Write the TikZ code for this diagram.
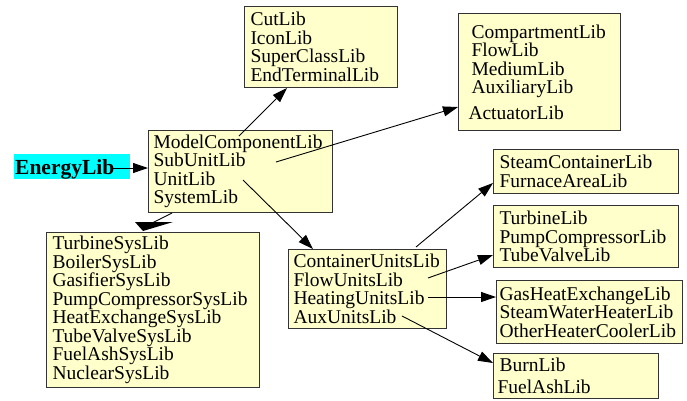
\documentclass[tikz,border=0pt]{standalone}
\usepackage{fontspec}
\setmainfont{Liberation Serif}
\usetikzlibrary{arrows.meta,calc}
\definecolor{boxfill}{HTML}{FFFFCC}
\definecolor{boxline}{HTML}{333333}
\definecolor{rootfill}{HTML}{00FFFF}
\begin{document}
\begin{tikzpicture}[x=1pt,y=-1pt,
  lib/.style={draw=boxline, line width=1pt, fill=boxfill, anchor=north west, align=left,
    inner ysep=0pt, font=\fontsize{19.5}{18.5}\selectfont},
  conn/.style={-{Triangle[length=15pt,width=10pt]}, line width=0.9pt}]
\useasboundingbox (0,0) rectangle (687,400);
% root
\node[fill=rootfill, anchor=north west, inner xsep=1pt, inner ysep=0pt, align=left,
  text width=114pt, text height=20pt, text depth=5pt,
  font=\bfseries\fontsize{21.5}{20}\selectfont] (energy) at (14,154) {EnergyLib};
% boxes
\node[lib, inner xsep=6pt, text width=141pt, minimum height=81pt] (cut) at (244,6)
  {CutLib\\IconLib\\SuperClassLib\\EndTerminalLib};
\node[lib, inner xsep=5pt, text width=174pt, minimum height=82pt] (mc) at (148,130)
  {ModelComponentLib\\SubUnitLib\\UnitLib\\SystemLib};
\node[lib, inner xsep=13pt, text width=136pt, minimum height=117pt] (comp) at (458,13)
  {CompartmentLib\\FlowLib\\MediumLib\\AuxiliaryLib\\[7pt]\hspace*{-3pt}ActuatorLib};
\node[lib, inner xsep=6pt, text width=201pt, minimum height=155pt] (sys) at (46,232)
  {TurbineSysLib\\BoilerSysLib\\GasifierSysLib\\PumpCompressorSysLib\\HeatExchangeSysLib\\TubeValveSysLib\\FuelAshSysLib\\NuclearSysLib};
\node[lib, inner xsep=5pt, text width=148pt, minimum height=79pt] (cu) at (288,249)
  {ContainerUnitsLib\\FlowUnitsLib\\HeatingUnitsLib\\AuxUnitsLib};
\node[lib, inner xsep=6pt, text width=173pt, minimum height=44pt] (steam) at (493,149)
  {SteamContainerLib\\FurnaceAreaLib};
\node[lib, inner xsep=6pt, text width=173pt, minimum height=62pt] (turb) at (493,205)
  {TurbineLib\\PumpCompressorLib\\TubeValveLib};
\node[lib, inner xsep=3pt, text width=180pt, minimum height=63pt] (gas) at (496,280)
  {GasHeatExchangeLib\\SteamWaterHeaterLib\\OtherHeaterCoolerLib};
\node[lib, inner xsep=6pt, text width=153pt, minimum height=45pt] (burn) at (493,353)
  {BurnLib\\[3pt]\hspace*{-2pt}FuelAshLib};
% connectors
\draw[conn] ($(energy.north west)+(99,14)$) -- ($(mc.north west)+(0,38)$);
\draw[conn] ($(mc.north west)+(91,6)$) -- ($(cut.south west)+(43,0)$);
\draw[conn] ($(mc.north west)+(128,32)$) -- ($(comp.north west)+(0,94)$);
\draw[conn] ($(mc.north west)+(95,50)$) -- ($(cu.north west)+(25,0)$);
% flattened head towards SystemLib box
\draw[line width=0.9pt] ($(mc.south west)+(24,0)$) -- ($(sys.north west)+(106,-9)$);
\fill ($(sys.north west)+(89,-10)$) -- ($(sys.north west)+(127,-10)$) -- ($(sys.north west)+(97,-1)$) -- cycle;
\draw[conn] ($(cu.north west)+(128,-2)$) -- ($(steam.south west)+(0,-11)$);
\draw[conn] ($(cu.north west)+(140,29)$) -- ($(turb.north west)+(0,50)$);
\draw[conn] ($(cu.north west)+(140,48)$) -- ($(gas.north west)+(0,17)$);
\draw[conn] ($(cu.north west)+(114,67)$) -- ($(burn.north west)+(0,10)$);
\end{tikzpicture}
\end{document}
